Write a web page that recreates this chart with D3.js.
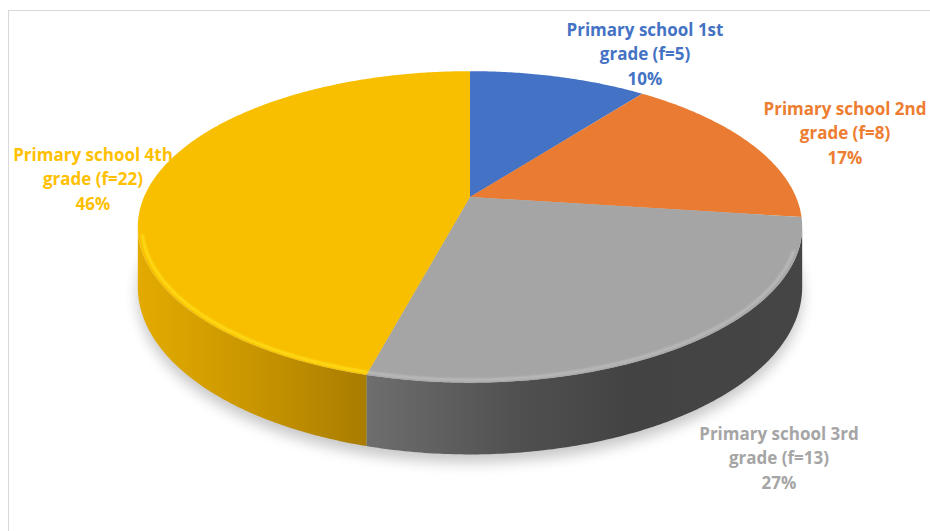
<!DOCTYPE html>
<html>
<head>
<meta charset="utf-8">
<script src="https://cdn.jsdelivr.net/npm/d3@7"></script>
<style>
  body { margin: 0; background: #fff; }
  svg { display: block; }
  text { font-family: "Open Sans", sans-serif; font-weight: 700; }
</style>
</head>
<body>
<svg id="chart" width="930" height="531"></svg>
<script>
// data
var grades = ["1st", "2nd", "3rd", "4th"];
var counts = [5, 8, 13, 22];
var topColors = ["#4472c4", "#e97c32", "#a5a5a5", "#f8be00"];
var labelColors = ["#4472c4", "#ed7d31", "#a5a5a5", "#ffc000"];

// label anchor points (layout only)
var labelX = [645, 845, 779, 93];
var labelY = [36, 115, 440, 161];

var width = 930, height = 531;

// fake 3d: circle seen in perspective
var cx = 470, cy = 197, sx = 326, sy = 150, k = 0.192, depth = 58;

function proj(phi, r, d) {
  var w = 1 + k * r * Math.cos(phi);
  return [cx + sx * r * Math.sin(phi) / w,
          cy - sy * r * Math.cos(phi) / w + (d || 0) / (1 + k * Math.cos(phi))];
}

function arcPoints(a0, a1, r, d) {
  var n = Math.max(2, Math.ceil((a1 - a0) / 0.01));
  return d3.range(n + 1).map(function(i) {
    return proj(a0 + (a1 - a0) * i / n, r, d);
  });
}

var line = d3.line();
var total = d3.sum(counts);
var pct = d3.format(".0%");

var pie = d3.pie().sort(null).value(function(d) { return d; });
var slices = pie(counts);

var svg = d3.select("#chart");
var defs = svg.append("defs");

defs.append("filter").attr("id", "shadow")
  .attr("x", "-20%").attr("y", "-20%").attr("width", "140%").attr("height", "140%")
  .append("feGaussianBlur").attr("stdDeviation", 7);

defs.append("filter").attr("id", "soft")
  .append("feGaussianBlur").attr("stdDeviation", 1);

// side wall shading, left to right
var sideGrad = [
  null, null,
  [["0%", "#6e6e6e"], ["35%", "#505050"], ["60%", "#434343"], ["100%", "#454545"]],
  [["0%", "#e3ab00"], ["50%", "#c99600"], ["100%", "#a97c00"]]
];

// frame
svg.append("rect")
  .attr("x", 8.5).attr("y", 10.5)
  .attr("width", 940).attr("height", 540)
  .attr("fill", "none")
  .attr("stroke", "#d9d9d9");

// shadow under the pie
svg.append("path")
  .attr("d", line(arcPoints(0, 2 * Math.PI, 1, depth)) + "Z")
  .attr("transform", "translate(0,8)")
  .attr("fill", "#000")
  .attr("opacity", 0.22)
  .attr("filter", "url(#shadow)");

// visible part of the side wall
var phiA = Math.acos(-k), phiB = 2 * Math.PI - phiA;

slices.forEach(function(s, i) {
  var a0 = Math.max(s.startAngle, phiA), a1 = Math.min(s.endAngle, phiB);
  if (a0 >= a1) return;
  var topPts = arcPoints(a0, a1, 1, 0);
  var botPts = arcPoints(a0, a1, 1, depth).reverse();
  var xs = topPts.map(function(p) { return p[0]; });
  var g = defs.append("linearGradient")
    .attr("id", "side" + i)
    .attr("gradientUnits", "userSpaceOnUse")
    .attr("x1", d3.min(xs)).attr("x2", d3.max(xs))
    .attr("y1", 0).attr("y2", 0);
  g.selectAll("stop").data(sideGrad[i]).enter().append("stop")
    .attr("offset", function(d) { return d[0]; })
    .attr("stop-color", function(d) { return d[1]; });
  svg.append("path")
    .attr("d", line(topPts.concat(botPts)) + "Z")
    .attr("fill", "url(#side" + i + ")");
});

// top face
svg.selectAll("path.top")
  .data(slices)
  .enter().append("path")
  .attr("class", "top")
  .attr("d", function(d) {
    return line([[cx, cy]].concat(arcPoints(d.startAngle, d.endAngle, 1, 0))) + "Z";
  })
  .attr("fill", function(d, i) { return topColors[i]; });

// bevel highlight on the near rim
var rimColors = [null, null, "#bdbdbd", "#ffe11a"];
slices.forEach(function(s, i) {
  var a0 = Math.max(s.startAngle, phiA + 0.15), a1 = Math.min(s.endAngle, phiB - 0.05);
  if (a0 >= a1 || !rimColors[i]) return;
  svg.append("path")
    .attr("d", line(arcPoints(a0, a1, 0.988, 0)))
    .attr("fill", "none")
    .attr("stroke", rimColors[i])
    .attr("stroke-width", 2.5)
    .attr("filter", "url(#soft)");
});

// labels
var labels = svg.selectAll("text.lbl")
  .data(slices)
  .enter().append("text")
  .attr("class", "lbl")
  .attr("text-anchor", "middle")
  .attr("font-size", 17)
  .attr("fill", function(d, i) { return labelColors[i]; });

labels.each(function(d, i) {
  var t = d3.select(this);
  var lines = ["Primary school " + grades[i], "grade (f=" + counts[i] + ")", pct(counts[i] / total)];
  lines.forEach(function(txt, j) {
    t.append("tspan")
      .attr("x", labelX[i])
      .attr("y", labelY[i] + j * 24.3)
      .text(txt);
  });
});
</script>
</body>
</html>
